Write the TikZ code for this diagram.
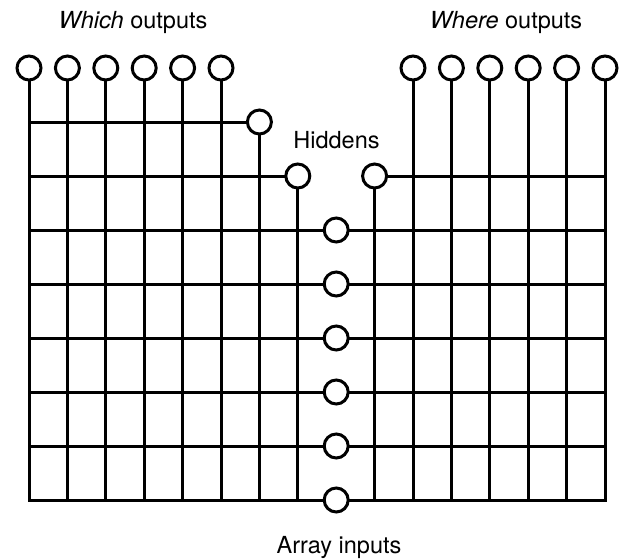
\documentclass[tikz,border=0pt]{standalone}
\usepackage{fontspec}
\setmainfont{TeX Gyre Heros}
\begin{document}
\begin{tikzpicture}[x=1pt,y=-1pt,
  unit/.style={circle,draw,fill=white,line width=3pt,minimum size=24pt,inner sep=0pt},
  wire/.style={line width=3pt,line cap=rect},
  caption/.style={anchor=base,font=\fontsize{23.5}{26}\selectfont,inner sep=0pt}]
\useasboundingbox (0,0) rectangle (619,560);
% column k sits at 29+38.4k, rows are 54 apart
\def\cx#1{29+38.4*#1}
% output units
\foreach \k in {0,...,5}
  \node[unit] (wo\k) at ({\cx{\k}},68) {};
\foreach \k in {10,...,15}
  \node[unit] (ho\k) at ({\cx{\k}},68) {};
% hidden units
\node[unit] (h1) at ({\cx{6}},122) {};
\node[unit] (h2) at ({\cx{7}},176) {};
\node[unit] (h3) at ({\cx{9}},176) {};
% array input units
\foreach \r in {0,...,5}
  \node[unit] (in\r) at ({\cx{8}},{230+54*\r}) {};
% column feet on the bottom row and row ends on the edges
\foreach \k in {0,...,15}
  \coordinate (b\k) at ({\cx{\k}},500);
\foreach \r in {0,...,5} {
  \coordinate (l\r) at (29,{230+54*\r});
  \coordinate (r\r) at (605,{230+54*\r});
}
\coordinate (lh1) at (29,122);
\coordinate (lh2) at (29,176);
\coordinate (rh3) at (605,176);
% wires
\begin{scope}[wire]
  \foreach \k in {0,...,5}
    \draw (wo\k) -- (b\k);
  \foreach \k in {10,...,15}
    \draw (ho\k) -- (b\k);
  \draw (h1) -- (b6);
  \draw (h2) -- (b7);
  \draw (h3) -- (b9);
  \draw (lh1) -- (h1);
  \draw (lh2) -- (h2);
  \draw (h3) -- (rh3);
  \foreach \r in {0,...,5}
    \draw (l\r) -- (in\r) -- (r\r);
\end{scope}
% labels
\node[caption] (lwhich) at (133,28) {\textit{Which} outputs};
\node[caption] (lwhere) at (506,28) {\textit{Where} outputs};
\node[caption] (lhid) at (336.5,148) {Hiddens};
\node[caption] (lin) at (339,553) {Array inputs};
\end{tikzpicture}
\end{document}
